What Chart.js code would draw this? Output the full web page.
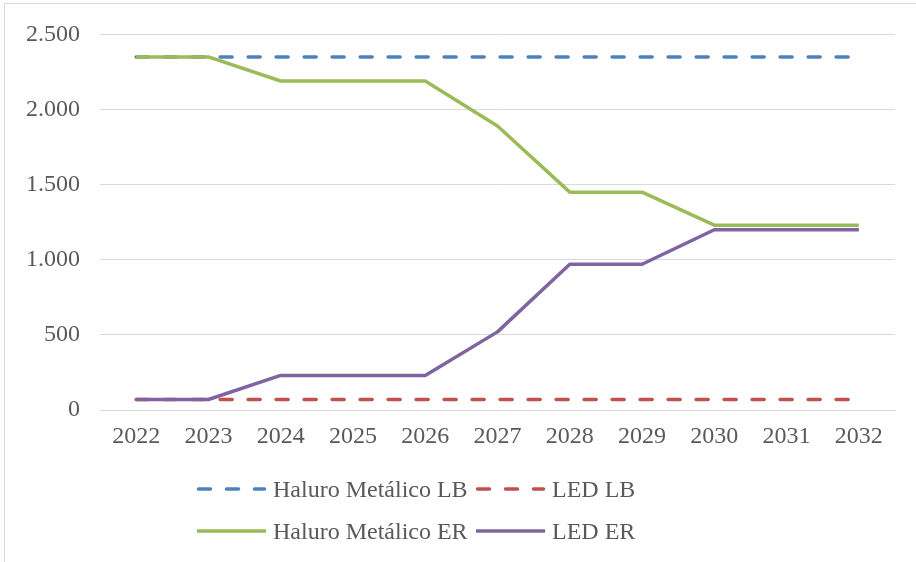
<!DOCTYPE html>
<html>
<head>
<meta charset="utf-8">
<script src="https://cdn.jsdelivr.net/npm/chart.js@4/dist/chart.umd.min.js"></script>
<style>
  html, body { margin: 0; padding: 0; background: #ffffff; }
  #wrap { position: relative; width: 916px; height: 562px; overflow: hidden; }
  #c { position: absolute; left: 0; top: 0; }
  .leg { position: absolute; height: 28px; line-height: 28px; font-family: 'Liberation Serif', 'Times New Roman', serif; font-size: 24px; color: #595959; white-space: nowrap; }
  .legsvg { position: absolute; }
</style>
</head>
<body>
<div id="wrap">
  <canvas id="c" width="916" height="562"></canvas>
</div>
<script>
const categories = ['2022','2023','2024','2025','2026','2027','2028','2029','2030','2031','2032'];
const haluroLB = [2350,2350,2350,2350,2350,2350,2350,2350,2350,2350,2350];
const ledLB    = [70,70,70,70,70,70,70,70,70,70,70];
const haluroER = [2350,2350,2190,2190,2190,1890,1450,1450,1230,1230,1230];
const ledER    = [70,70,230,230,230,520,970,970,1200,1200,1200];
const yTickValues = [0,500,1000,1500,2000,2500];
const yTickLabels = ['0','500','1.000','1.500','2.000','2.500'];
const seriesNames = ['Haluro Metálico LB','LED LB','Haluro Metálico ER','LED ER'];
const seriesColors = ['#4F81BD','#C0504D','#9BBB59','#8064A2'];
const seriesDashed = [true, true, false, false];

const FONT = "'Liberation Serif', 'Times New Roman', serif";
const TEXT = '#595959';
const GRID = '#D9D9D9';

const frame = {
  id: 'frame',
  beforeDraw(chart) {
    const ctx = chart.ctx;
    ctx.save();
    ctx.fillStyle = '#ffffff';
    ctx.fillRect(0, 0, chart.width, chart.height);
    ctx.strokeStyle = GRID;
    ctx.lineWidth = 1;
    ctx.strokeRect(4.5, 3.5, 1200, 1200);
    ctx.restore();
  }
};

const seriesData = [haluroLB, ledLB, haluroER, ledER];
const datasets = seriesData.map((d, i) => ({
  label: seriesNames[i],
  data: d,
  borderColor: seriesColors[i],
  backgroundColor: seriesColors[i],
  borderWidth: 3.5,
  borderDash: seriesDashed[i] ? [12, 16] : [],
  borderCapStyle: seriesDashed[i] ? 'round' : 'butt',
  borderJoinStyle: 'round',
  pointRadius: 0,
  tension: 0,
  fill: false,
  order: seriesDashed[i] ? 1 : 0
}));

new Chart(document.getElementById('c'), {
  type: 'line',
  data: { labels: categories, datasets },
  options: {
    responsive: false,
    animation: false,
    events: [],
    layout: { padding: { left: 0, right: 21, top: 33, bottom: 112 } },
    plugins: { legend: { display: false }, tooltip: { enabled: false }, title: { display: false } },
    scales: {
      x: {
        offset: true,
        grid: { display: false, drawTicks: false },
        border: { display: true, color: GRID, width: 1 },
        ticks: { color: TEXT, font: { family: FONT, size: 24 }, padding: 12, maxRotation: 0, autoSkip: false },
        afterFit(s) { s.height = 40; }
      },
      y: {
        min: 0, max: 2500,
        afterBuildTicks(s) { s.ticks = yTickValues.map(v => ({ value: v })); },
        grid: { color: GRID, lineWidth: 1, drawTicks: false },
        border: { display: false },
        ticks: {
          color: TEXT, font: { family: FONT, size: 24 }, padding: 20,
          callback(v) { const i = yTickValues.indexOf(v); return i >= 0 ? yTickLabels[i] : ''; }
        },
        afterFit(s) { s.width = 100; }
      }
    }
  },
  plugins: [frame]
});

// HTML legend (2 x 2 grid)
const wrap = document.getElementById('wrap');
const legendPos = [
  { lx: 197, tx: 273, cy: 489 },
  { lx: 476, tx: 552, cy: 489 },
  { lx: 197, tx: 273, cy: 531 },
  { lx: 476, tx: 552, cy: 531 }
];
seriesNames.forEach((name, i) => {
  const p = legendPos[i];
  const svgNS = 'http://www.w3.org/2000/svg';
  const svg = document.createElementNS(svgNS, 'svg');
  svg.setAttribute('class', 'legsvg');
  svg.setAttribute('width', '72');
  svg.setAttribute('height', '10');
  svg.style.left = (p.lx - 1) + 'px';
  svg.style.top = (p.cy - 5) + 'px';
  const ln = document.createElementNS(svgNS, 'line');
  if (seriesDashed[i]) {
    ln.setAttribute('x1', '2.5'); ln.setAttribute('x2', '68.5');
    ln.setAttribute('stroke-dasharray', '12 16');
    ln.setAttribute('stroke-linecap', 'round');
  } else {
    ln.setAttribute('x1', '1'); ln.setAttribute('x2', '70');
  }
  ln.setAttribute('y1', '5'); ln.setAttribute('y2', '5');
  ln.setAttribute('stroke', seriesColors[i]);
  ln.setAttribute('stroke-width', '3.5');
  svg.appendChild(ln);
  wrap.appendChild(svg);
  const d = document.createElement('div');
  d.className = 'leg';
  d.style.left = p.tx + 'px';
  d.style.top = (p.cy - 14) + 'px';
  d.textContent = name;
  wrap.appendChild(d);
});
</script>
</body>
</html>
